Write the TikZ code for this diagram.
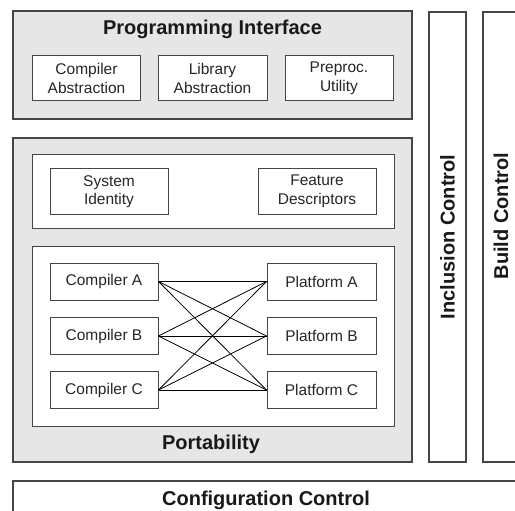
\documentclass[tikz,border=0pt]{standalone}
\usepackage{fontspec}
\setmainfont{Liberation Sans}
\usepackage{tikz}
\usetikzlibrary{positioning}
\definecolor{panelgray}{HTML}{E6E6E6}
\definecolor{edgegray}{HTML}{454545}

\begin{document}
\begin{tikzpicture}[x=1pt, y=-1pt,
	panel/.style={draw=edgegray, line width=1.3pt, fill=panelgray},
	bar/.style={draw=edgegray, line width=1.3pt, fill=white},
	unit/.style={draw=edgegray, line width=1pt, fill=white, align=center, text=black!85, font=\fontsize{15.5}{18.5}\selectfont, inner sep=0pt},
	title/.style={font=\fontsize{20}{22}\bfseries\selectfont, text=black!90}]
\useasboundingbox (0,0) rectangle (515,511);
\clip (0,0) rectangle (515,511);

% outer panels
\draw[panel] (13,11) rectangle (412,119);
\draw[panel] (13,138) rectangle (412,462);
\draw[bar] (429,12) rectangle (466,462);
\draw[bar] (483,12) rectangle (530,462);
\draw[bar] (13,481) rectangle (530,530);

\node[title] (progif) at (212.5,29) {Programming Interface};
\node[title] (port) at (211,444) {Portability};
\node[title] (conf) at (266,500) {Configuration Control};
\node[title, rotate=90] (incl) at (447.5,237) {Inclusion Control};
\node[title, rotate=90] (build) at (501,216) {Build Control};

% programming interface parts
\node[unit, minimum width=108pt, minimum height=45pt] (compabs) at (86.5,78.5) {Compiler\\Abstraction};
\node[unit, minimum width=109pt, minimum height=45pt] (libabs) at (212.5,78.5) {Library\\Abstraction};
\node[unit, minimum width=108pt, minimum height=45pt] (prepu) at (339,78.5) {Preproc.\\Utility};

% identity group
\draw[bar, line width=1pt] (32,155) rectangle (394,228);
\node[unit, minimum width=118pt, minimum height=45pt] (sysid) at (109,191.5) {System\\Identity};
\node[unit, minimum width=118pt, minimum height=45pt] (featd) at (317,191.5) {Feature\\Descriptors};

% compilers and platforms
\draw[bar, line width=1pt] (32,246) rectangle (394,426);
\foreach \n/\y in {A/281.5,B/336,C/390}
{
	\node[unit, minimum width=108pt, minimum height=37pt] (comp\n) at (104,\y) {Compiler \n};
	\node[unit, minimum width=109pt, minimum height=37pt] (plat\n) at (321.5,\y) {Platform \n};
}

\foreach \a in {A,B,C}
	\foreach \b in {A,B,C}
		\draw[black, line width=0.8pt] (comp\a.east) -- (plat\b.west);

\end{tikzpicture}
\end{document}
